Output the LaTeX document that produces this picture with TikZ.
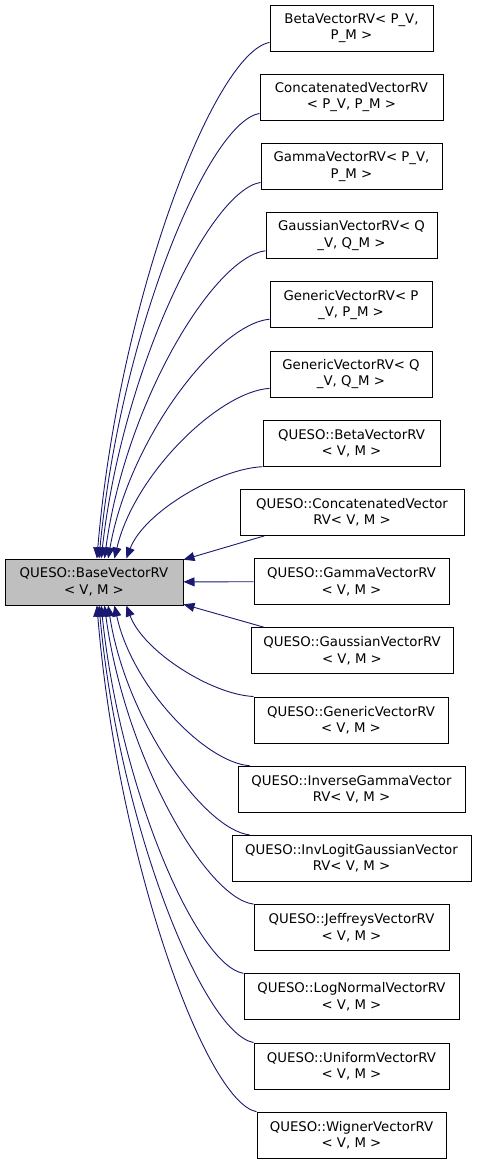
\documentclass[tikz,border=0pt]{standalone}
\usepackage{fontspec}
\setmainfont{DejaVu Sans}
\usepackage{tikz}
\usetikzlibrary{arrows.meta}

\begin{document}
\begin{tikzpicture}[x=1pt, y=-1pt,
  cls/.style={draw=black, line width=1pt, fill=white, align=center, inner sep=0pt,
    minimum height=46pt, font=\fontsize{13.3}{16.5}\selectfont},
  basecls/.style={cls, fill=black!25},
  inherit/.style={draw={rgb,255:red,25;green,25;blue,112}, line width=0.9pt,
    -{Triangle[length=11pt, width=9pt]}}]
\useasboundingbox (0,0) rectangle (477,1165);
% base class
\node[basecls, minimum width=178pt] (base) at (94,582) {QUESO::BaseVectorRV\\< V, M >};
% derived classes
\node[cls, minimum width=163pt] (b1) at (351.5,28) {BetaVectorRV< P\_V,\\P\_M >};
\node[cls, minimum width=183pt] (b2) at (351.5,97.2) {ConcatenatedVectorRV\\< P\_V, P\_M >};
\node[cls, minimum width=181pt] (b3) at (351.5,166.4) {GammaVectorRV< P\_V,\\P\_M >};
\node[cls, minimum width=171pt] (b4) at (351.5,235.6) {GaussianVectorRV< Q\\\_V, Q\_M >};
\node[cls, minimum width=162pt] (b5) at (351,304.8) {GenericVectorRV< P\\\_V, P\_M >};
\node[cls, minimum width=162pt] (b6) at (351,374) {GenericVectorRV< Q\\\_V, Q\_M >};
\node[cls, minimum width=177pt] (b7) at (351.5,443.2) {QUESO::BetaVectorRV\\< V, M >};
\node[cls, minimum width=224pt] (b8) at (352,512.4) {QUESO::ConcatenatedVector\\RV< V, M >};
\node[cls, minimum width=195pt] (b9) at (351.5,581.6) {QUESO::GammaVectorRV\\< V, M >};
\node[cls, minimum width=202pt] (b10) at (352,650.8) {QUESO::GaussianVectorRV\\< V, M >};
\node[cls, minimum width=194pt] (b11) at (351,720) {QUESO::GenericVectorRV\\< V, M >};
\node[cls, minimum width=227pt] (b12) at (351.5,789.2) {QUESO::InverseGammaVector\\RV< V, M >};
\node[cls, minimum width=239pt] (b13) at (351.5,858.4) {QUESO::InvLogitGaussianVector\\RV< V, M >};
\node[cls, minimum width=195pt] (b14) at (351.5,927.6) {QUESO::JeffreysVectorRV\\< V, M >};
\node[cls, minimum width=215pt] (b15) at (351.5,996.8) {QUESO::LogNormalVectorRV\\< V, M >};
\node[cls, minimum width=195pt] (b16) at (351.5,1066) {QUESO::UniformVectorRV\\< V, M >};
\node[cls, minimum width=189pt] (b17) at (351.5,1135.2) {QUESO::WignerVectorRV\\< V, M >};
% inheritance arrows, upper half
\draw[inherit] (b1.190) .. controls +(-55,10) and +(22,-260) .. (base.83);
\draw[inherit] (b2.190) .. controls +(-52,9) and +(21,-223) .. (base.78);
\draw[inherit] (b3.190) .. controls +(-51,8) and +(21,-188) .. (base.73);
\draw[inherit] (b4.190) .. controls +(-52,6) and +(21,-155) .. (base.66);
\draw[inherit] (b5.190) .. controls +(-52,5) and +(21,-120) .. (base.59);
\draw[inherit] (b6.190) .. controls +(-50,3) and +(20,-85) .. (base.49);
\draw[inherit] (b7.south west) .. controls +(-44,2) and +(18,-47) .. (base.36);
% straight ones
\draw[inherit] (b8.195) -- (base.14);
\draw[inherit] (b9) -- (base);
\draw[inherit] (b10.165) -- (base.-14);
% lower half
\draw[inherit] (b11.north west) .. controls +(-42,-2) and +(17,46) .. (base.-36);
\draw[inherit] (b12.167) .. controls +(-44,-3) and +(18,82) .. (base.-49);
\draw[inherit] (b13.167) .. controls +(-45,-5) and +(18,116) .. (base.-59);
\draw[inherit] (b14.north west) .. controls +(-48,-6) and +(20,150) .. (base.-66);
\draw[inherit] (b15.north west) .. controls +(-46,-7) and +(19,185) .. (base.-73);
\draw[inherit] (b16.north west) .. controls +(-50,-9) and +(20,219) .. (base.-78);
\draw[inherit] (b17.north west) .. controls +(-51,-10) and +(21,254) .. (base.-83);
\end{tikzpicture}
\end{document}
